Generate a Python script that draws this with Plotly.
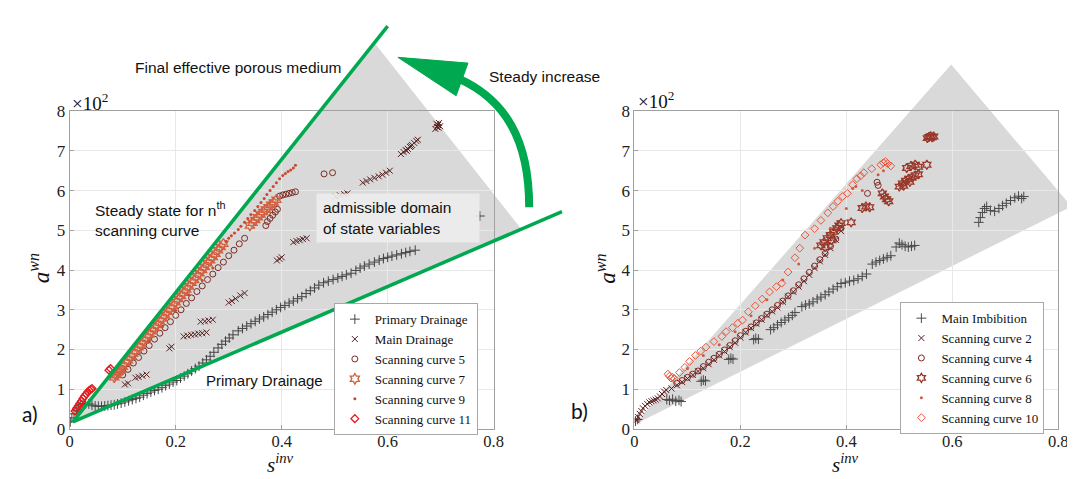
import plotly.graph_objects as go

W, H = 1075, 479

# ---------------- data (left panel a) ----------------
pd_x = [0.001,0.004,0.008,0.012,0.016,0.020,0.025,0.030,0.036,0.042,0.048,0.054,0.060,0.066,0.072,0.078,0.084,0.090,0.097,0.104,
        0.111,0.118,0.125,0.132,0.139,0.146,0.153,0.160,0.167,0.174,0.181,0.188,0.195,0.202,0.209,0.216,0.223,0.230,0.237,0.244,
        0.251,0.258,0.265,0.272,0.280,0.287,0.294,0.301,0.308,0.318,0.326,0.334,0.342,0.350,0.358,0.366,0.374,0.382,0.390,0.398,
        0.406,0.414,0.422,0.430,0.438,0.446,0.454,0.462,0.470,0.479,0.488,0.497,0.506,0.514,0.522,0.531,0.540,0.548,0.556,0.565,
        0.575,0.584,0.592,0.600,0.608,0.617,0.626,0.634,0.642,0.652,0.774]
pd_y = [0.18,0.28,0.38,0.46,0.53,0.58,0.62,0.64,0.63,0.60,0.58,0.57,0.57,0.58,0.59,0.60,0.61,0.63,0.65,0.68,
        0.71,0.74,0.77,0.80,0.85,0.89,0.93,0.97,1.00,1.04,1.09,1.13,1.18,1.22,1.28,1.33,1.39,1.46,1.52,1.58,
        1.66,1.74,1.83,1.93,2.04,2.13,2.21,2.29,2.37,2.47,2.53,2.59,2.65,2.71,2.77,2.82,2.88,2.94,3.00,3.06,
        3.11,3.17,3.22,3.28,3.33,3.41,3.48,3.55,3.62,3.68,3.72,3.76,3.80,3.84,3.88,3.92,3.99,4.05,4.10,4.15,
        4.20,4.25,4.29,4.32,4.35,4.38,4.41,4.44,4.47,4.50,5.36]

md_x = [0.104,0.110,0.124,0.130,0.137,0.145,0.188,0.192,0.215,0.222,0.229,0.236,0.243,0.250,0.258,0.247,0.255,0.262,0.270,
        0.300,0.306,0.313,0.322,0.330,0.391,0.396,0.400,0.422,0.428,0.434,0.440,0.447,0.502,0.510,0.518,0.524,
        0.553,0.560,0.567,0.575,0.583,0.590,0.597,0.604,
        0.625,0.630,0.634,0.636,0.638,0.642,0.644,0.646,0.650,0.654,0.657,
        0.690,0.692,0.693,0.695,0.696,0.697,0.699]
md_y = [1.12,1.15,1.29,1.31,1.34,1.37,2.03,2.07,2.33,2.35,2.37,2.38,2.40,2.41,2.43,2.70,2.71,2.73,2.75,
        3.18,3.22,3.28,3.36,3.42,4.24,4.28,4.32,4.70,4.73,4.75,4.78,4.80,5.85,5.88,5.91,5.93,
        6.20,6.24,6.28,6.32,6.36,6.40,6.45,6.50,
        6.92,6.97,7.02,7.00,7.05,7.10,7.12,7.15,7.20,7.25,7.28,
        7.55,7.68,7.60,7.65,7.58,7.70,7.62]

sc5_x = [0.100,0.110,0.120,0.130,0.140,0.150,0.160,0.170,0.180,0.190,0.200,0.210,0.220,0.230,0.240,0.250,0.260,0.270,
         0.280,0.290,0.300,0.310,0.320,0.330,0.370,0.373,0.378,0.383,0.388,0.392,0.396,0.402,0.408,0.414,0.420,0.426,
         0.480,0.496]
sc5_y = [1.36,1.50,1.66,1.80,1.96,2.10,2.26,2.41,2.55,2.70,2.86,3.00,3.16,3.30,3.46,3.60,3.76,3.90,
         4.06,4.20,4.36,4.50,4.66,4.80,5.12,5.22,5.30,5.38,5.46,5.53,5.86,5.89,5.91,5.93,5.95,5.97,
         6.42,6.45]

sc7_x = [0.084,0.086,0.088,0.090,0.092,0.094,0.096,0.100,0.105,0.110,0.115,0.120,0.125,0.130,0.135,0.140,0.145,0.150,
         0.155,0.160,0.165,0.170,0.175,0.180,0.185,0.190,0.195,0.200,0.205,0.210,0.215,0.220,0.225,0.230,0.235,0.240,
         0.245,0.250,0.255,0.260,0.265,0.270,0.275,0.280,0.285,0.290,
         0.340,0.345,0.350,0.355,0.360,0.365,0.370,0.375,0.380,0.385,0.390]
sc7_y = [1.30,1.36,1.38,1.42,1.44,1.47,1.50,1.57,1.66,1.73,1.82,1.90,1.97,2.06,2.13,2.22,2.30,2.38,
         2.46,2.54,2.62,2.71,2.78,2.86,2.95,3.03,3.10,3.19,3.27,3.35,3.43,3.51,3.59,3.68,3.75,3.84,
         3.92,4.00,4.08,4.17,4.25,4.33,4.41,4.50,4.58,4.66,
         5.12,5.19,5.26,5.33,5.40,5.46,5.52,5.58,5.64,5.70,5.77]

sc9_x = [0.150,0.175,0.200,0.225,0.250,0.270,
         0.295,0.300,0.305,0.311,0.318,0.323,0.330,0.336,0.342,0.349,0.355,0.361,0.367,0.372,0.378,0.384,0.390,0.396,
         0.402,0.407,0.412,0.417,0.422,0.426]
sc9_y = [2.20,2.58,2.98,3.38,3.74,4.05,
         4.72,4.80,4.86,4.93,5.02,5.10,5.20,5.30,5.40,5.50,5.60,5.70,5.80,5.90,6.00,6.10,6.20,6.30,
         6.38,6.43,6.48,6.52,6.57,6.64]

sc11_x = [0.010,0.013,0.016,0.019,0.022,0.025,0.028,0.031,0.034,0.037,0.040,0.042,0.074,0.077]
sc11_y = [0.45,0.52,0.58,0.64,0.70,0.77,0.83,0.88,0.93,0.97,1.00,1.02,1.48,1.52]

# ---------------- data (right panel b) ----------------
mi_x = [0.002,0.006,0.061,0.066,0.072,0.078,0.084,0.088,0.126,0.130,0.134,0.178,0.182,0.186,0.225,0.229,0.234,
        0.257,0.263,0.270,0.277,0.284,0.291,0.298,0.303,0.316,0.323,0.330,0.337,0.345,0.352,0.360,0.367,0.375,0.383,
        0.390,0.398,0.406,0.414,0.422,0.430,0.438,0.449,0.456,0.463,0.470,0.477,0.484,
        0.494,0.500,0.505,0.511,0.517,0.523,0.529,
        0.650,0.653,0.657,0.661,0.665,0.672,0.680,0.688,0.695,0.702,0.710,0.718,0.725,0.731,0.735]
mi_y = [0.20,0.24,0.74,0.72,0.75,0.70,0.72,0.69,1.20,1.23,1.21,1.75,1.78,1.76,2.25,2.28,2.26,
        2.50,2.55,2.62,2.68,2.74,2.80,2.86,2.93,3.08,3.12,3.15,3.20,3.27,3.32,3.38,3.45,3.52,3.58,
        3.66,3.68,3.72,3.74,3.78,3.84,3.90,4.15,4.20,4.24,4.28,4.32,4.36,
        4.58,4.68,4.64,4.60,4.58,4.60,4.62,
        5.20,5.32,5.45,5.55,5.60,5.50,5.48,5.55,5.62,5.68,5.75,5.82,5.86,5.80,5.85]

sc2_x = [0.004,0.007,0.010,0.013,0.016,0.020,0.024,0.028,0.032,0.036,0.040,0.044,0.048,0.052,0.056,0.060,
         0.070,0.080,0.090,0.100,0.110,0.120,0.130,0.140,0.150,0.160,0.170,0.180,0.190,0.200,0.210,0.220,0.230,
         0.240,0.250,0.260,0.270,0.280,0.290,0.300,0.310,0.320,0.330,0.340,0.350,0.360,0.370,0.380,0.390]
sc2_y = [0.22,0.30,0.38,0.45,0.52,0.58,0.63,0.67,0.70,0.72,0.74,0.77,0.82,0.88,0.94,0.98,
         1.02,1.10,1.18,1.27,1.36,1.45,1.53,1.63,1.74,1.85,1.95,2.06,2.17,2.30,2.43,2.54,2.65,
         2.75,2.86,2.96,3.06,3.20,3.33,3.45,3.58,3.72,3.88,4.05,4.22,4.38,4.55,4.76,4.98]

sc4_x = [0.080,0.090,0.100,0.110,0.120,0.130,0.140,0.150,0.160,0.170,0.180,0.190,0.200,0.210,0.220,0.230,0.240,
         0.250,0.260,0.270,0.280,0.290,0.300,0.310,0.320,0.330,0.340,0.350,0.360,0.370,0.380,0.390,
         0.440,0.458,0.460]
sc4_y = [1.15,1.22,1.30,1.38,1.46,1.57,1.68,1.78,1.88,1.99,2.10,2.22,2.35,2.46,2.57,2.67,2.78,
         2.89,3.00,3.11,3.22,3.35,3.48,3.63,3.78,3.94,4.10,4.26,4.42,4.60,4.78,5.05,
         5.93,6.21,6.13]

sc6_x = [0.352,0.358,0.360,0.364,0.370,0.372,0.376,0.382,0.386,0.390,0.409,0.430,0.437,0.444,0.468,0.472,0.476,0.480,
         0.500,0.506,0.508,0.512,0.518,0.520,0.524,0.530,0.536,0.514,0.522,0.530,0.536,0.552,
         0.553,0.556,0.559,0.562,0.565]
sc6_y = [4.62,4.70,4.58,4.80,4.88,4.75,4.96,5.05,5.12,5.18,5.20,5.56,5.60,5.58,5.93,5.85,5.78,5.73,
         6.10,6.18,6.12,6.25,6.30,6.22,6.33,6.38,6.41,6.57,6.62,6.65,6.60,6.65,
         7.32,7.35,7.37,7.34,7.36]

sc8_x = [0.100,0.130,0.160,0.190,0.220,0.250,0.280,0.310,0.340,0.370,0.400,0.412,0.418,0.430,0.460,0.470]
sc8_y = [1.52,1.85,2.12,2.45,2.85,3.25,3.75,4.15,4.55,5.05,5.55,6.05,6.10,6.00,6.40,6.50]

sc10_x = [0.063,0.066,0.069,0.072,0.075,0.085,0.095,0.104,0.115,0.125,0.135,0.150,0.165,0.173,0.185,0.195,0.204,
          0.215,0.228,0.241,0.255,0.268,0.278,0.290,0.303,0.312,0.322,0.340,0.352,0.365,0.375,0.384,0.393,0.402,
          0.412,0.420,0.427,0.433,0.448,0.465,0.470,0.474,0.478,0.484]
sc10_y = [1.38,1.33,1.28,1.30,1.27,1.42,1.55,1.70,1.85,1.96,2.06,2.20,2.33,2.45,2.55,2.66,2.74,
          2.95,3.10,3.27,3.45,3.58,3.67,3.95,4.31,4.55,4.88,5.04,5.25,5.44,5.60,5.73,5.85,5.93,
          6.15,6.30,6.37,6.45,6.55,6.65,6.70,6.73,6.68,6.62]

# admissible-domain wedges and bounding lines (data units)
left_wedge_x = [0.006, 0.575, 0.851]
left_wedge_y = [0.18, 9.72, 5.05]
right_wedge_x = [0.000, 0.598, 0.825]
right_wedge_y = [0.11, 9.17, 5.60]
green_upper_x = [0.006, 0.600]
green_upper_y = [0.18, 10.14]
green_lower_x = [0.006, 0.929]
green_lower_y = [0.18, 5.47]

x_ticks = [0, 0.2, 0.4, 0.6, 0.8]
x_tick_text = ["0", "0.2", "0.4", "0.6", "0.8"]
y_ticks = [0, 1, 2, 3, 4, 5, 6, 7, 8]

# ---------------- layout helpers ----------------
XR = [0, 0.8]
YR = [0, 8]
XL_DOM = [58.5 / W, 488 / W]
XR_DOM = [630.7 / W, 1060 / W]
Y_DOM = [1 - 429 / H, 1 - 98 / H]


def d2p(x, y, xdom):
    px = xdom[0] + (x - XR[0]) / (XR[1] - XR[0]) * (xdom[1] - xdom[0])
    py = Y_DOM[0] + (y - YR[0]) / (YR[1] - YR[0]) * (Y_DOM[1] - Y_DOM[0])
    return px, py


def pix(px, py):
    return px / W, 1 - py / H


def poly_path(xs, ys, xdom):
    pts = [d2p(a, b, xdom) for a, b in zip(xs, ys)]
    return "M " + " L ".join(f"{a:.5f},{b:.5f}" for a, b in pts) + " Z"


SERIF = "Liberation Serif"
SANS = "Liberation Sans"

fig = go.Figure()


def add(xs, ys, name, color, symbol, size, xa, ya, legend, lw=1):
    fig.add_trace(go.Scatter(
        x=xs, y=ys, mode="markers", name=name, xaxis=xa, yaxis=ya, legend=legend,
        marker=dict(symbol=symbol, size=size, color=color, line=dict(color=color, width=lw))))


add(pd_x, pd_y, "Primary Drainage", "#454545", "cross-thin-open", 7, "x", "y", "legend")
add(md_x, md_y, "Main Drainage", "#5b2020", "x-thin-open", 6, "x", "y", "legend")
add(sc5_x, sc5_y, "Scanning curve 5", "#7a2b22", "circle-open", 6, "x", "y", "legend")
add(sc7_x, sc7_y, "Scanning curve 7", "#d2603f", "hexagram-open", 8, "x", "y", "legend", 1.3)
add(sc9_x, sc9_y, "Scanning curve 9", "#c8482e", "circle", 3, "x", "y", "legend", 0)
add(sc11_x, sc11_y, "Scanning curve 11", "#e41a1c", "diamond-open", 6, "x", "y", "legend", 1.3)

add(mi_x, mi_y, "Main Imbibition", "#4a4a4a", "cross-thin-open", 7, "x2", "y2", "legend2")
add(sc2_x, sc2_y, "Scanning curve 2", "#5e1d1d", "x-thin-open", 6, "x2", "y2", "legend2")
add(sc4_x, sc4_y, "Scanning curve 4", "#7d2a24", "circle-open", 6, "x2", "y2", "legend2")
add(sc6_x, sc6_y, "Scanning curve 6", "#99382a", "hexagram-open", 7, "x2", "y2", "legend2", 1.3)
add(sc8_x, sc8_y, "Scanning curve 8", "#d25a3c", "circle", 3, "x2", "y2", "legend2", 0)
add(sc10_x, sc10_y, "Scanning curve 10", "#e8553a", "diamond-open", 6, "x2", "y2", "legend2")

axis_common = dict(range=XR, tickvals=x_ticks, ticktext=x_tick_text, showgrid=True, gridcolor="#e8e8e8",
                   zeroline=False, showline=True, linecolor="#a0a0a0", mirror=True, ticks="inside",
                   ticklen=4, tickcolor="#a0a0a0", ticklabelstandoff=-3,
                   tickfont=dict(family=SERIF, size=16.5, color="#222"))
yaxis_common = dict(range=YR, tickvals=y_ticks, showgrid=True, gridcolor="#e8e8e8", zeroline=False,
                    showline=True, linecolor="#a0a0a0", mirror=True, ticks="inside", ticklen=4,
                    tickcolor="#a0a0a0", tickfont=dict(family=SERIF, size=17, color="#222"))

shapes = []
# grey admissible-domain wedges
shapes.append(dict(type="path", xref="paper", yref="paper", layer="below",
                   path=poly_path(left_wedge_x, left_wedge_y, XL_DOM), fillcolor="#d9d9d9", line=dict(width=0)))
shapes.append(dict(type="path", xref="paper", yref="paper", layer="below",
                   path=poly_path(right_wedge_x, right_wedge_y, XR_DOM), fillcolor="#d9d9d9", line=dict(width=0)))
# green bounding lines
for gx, gy in [(green_upper_x, green_upper_y), (green_lower_x, green_lower_y)]:
    p0 = d2p(gx[0], gy[0], XL_DOM)
    p1 = d2p(gx[1], gy[1], XL_DOM)
    shapes.append(dict(type="line", xref="paper", yref="paper", layer="above", x0=p0[0], y0=p0[1],
                       x1=p1[0], y1=p1[1], line=dict(color="#00a94f", width=3.5)))

# curved green arrow ("Steady increase")
a0 = pix(524, 198); c1 = pix(524, 128); c2 = pix(500, 86); a1 = pix(452, 64)
shapes.append(dict(type="path", xref="paper", yref="paper", layer="above",
                   path=f"M {a0[0]:.5f},{a0[1]:.5f} C {c1[0]:.5f},{c1[1]:.5f} {c2[0]:.5f},{c2[1]:.5f} {a1[0]:.5f},{a1[1]:.5f}",
                   line=dict(color="#00a94f", width=8)))
t = pix(391, 42); h1 = pix(462, 48); h2 = pix(450, 82)
shapes.append(dict(type="path", xref="paper", yref="paper", layer="above",
                   path=f"M {t[0]:.5f},{t[1]:.5f} L {h1[0]:.5f},{h1[1]:.5f} L {h2[0]:.5f},{h2[1]:.5f} Z",
                   fillcolor="#00a94f", line=dict(color="#00a94f", width=1)))

ann = []


def text(px, py, s, size=15.5, family=SANS, xanchor="center", yanchor="middle", angle=0, align="center", **kw):
    x, y = pix(px, py)
    ann.append(dict(x=x, y=y, xref="paper", yref="paper", text=s, showarrow=False, xanchor=xanchor,
                    yanchor=yanchor, textangle=angle, align=align,
                    font=dict(family=family, size=size, color="#111"), **kw))


text(229, 53, "Final effective porous medium")
text(540, 62, "Steady increase")
text(82, 210, "Steady state for n<sup>th</sup><br>scanning curve", xanchor="left", align="left")
text(308, 183, "admissible domain<br>of state variables", xanchor="left", yanchor="top", align="left",
     bgcolor="rgba(236,236,236,0.9)", borderpad=6, width=150, height=36)
text(256, 378, "Primary Drainage", size=15)
text(18, 413, "a)", size=21, family="Lato")
text(575, 410, "b)", size=21, family="Lato")
# axis decorations
for (xt_px, ex_px, ey_px, yl_px) in [(272, 59, 88, 28), (845, 632, 86, 602)]:
    text(xt_px, 481, "<i>s</i><sup><i>inv</i></sup>", size=21, family=SERIF, yanchor="bottom")
    text(ex_px, ey_px, "×10<sup>2</sup>", size=19, family=SERIF, xanchor="left")
    text(yl_px, 262, "<i>a</i><sup><i>wn</i></sup>", size=23, family=SERIF, angle=-90)

legend_style = dict(bgcolor="white", bordercolor="#a8a8a8", borderwidth=1, xanchor="right", yanchor="top",
                    font=dict(family=SERIF, size=13, color="#111"), itemwidth=30, tracegroupgap=0)

fig.update_layout(
    width=W, height=H, margin=dict(l=0, r=0, t=0, b=0),
    paper_bgcolor="white", plot_bgcolor="rgba(0,0,0,0)",
    xaxis=dict(domain=XL_DOM, anchor="y", **axis_common),
    yaxis=dict(domain=Y_DOM, anchor="x", **yaxis_common),
    xaxis2=dict(domain=XR_DOM, anchor="y2", **axis_common),
    yaxis2=dict(domain=Y_DOM, anchor="x2", **yaxis_common),
    legend=dict(x=472 / W, y=1 - 298 / H, **legend_style),
    legend2=dict(x=1046 / W, y=1 - 297 / H, **legend_style),
    shapes=shapes, annotations=ann, showlegend=True,
)

fig.write_html("out.html")
